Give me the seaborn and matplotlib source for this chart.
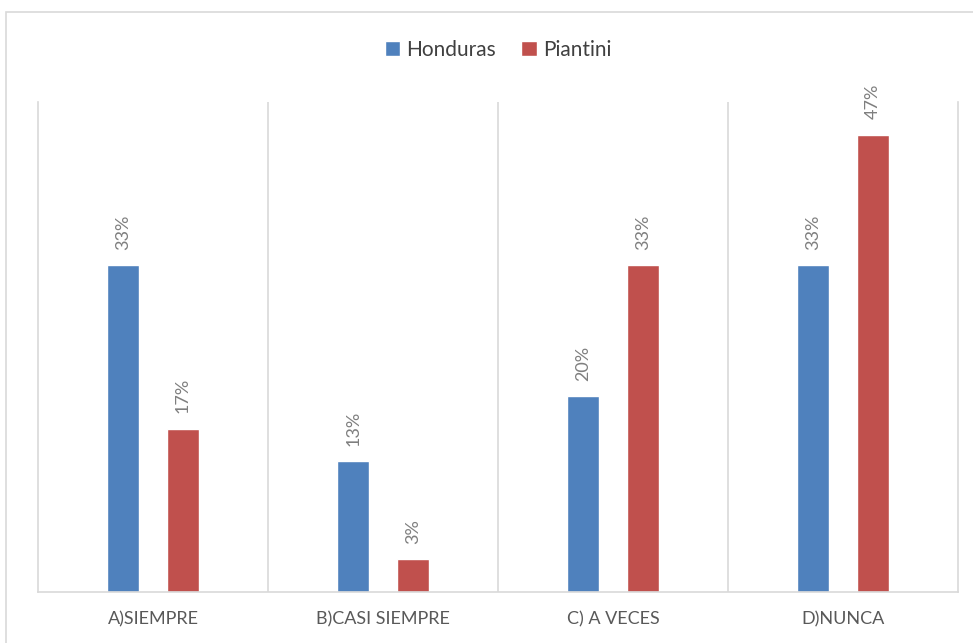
import pandas as pd
import seaborn as sns
import matplotlib.pyplot as plt
from matplotlib.patches import Rectangle

categories = ['A)SIEMPRE', 'B)CASI SIEMPRE', 'C) A VECES', 'D)NUNCA']
honduras = [10 / 30, 4 / 30, 6 / 30, 10 / 30]
piantini = [5 / 30, 1 / 30, 10 / 30, 14 / 30]
series_names = ['Honduras', 'Piantini']
colors = ['#4F81BD', '#C0504D']

df = pd.DataFrame({'categoria': categories * 2,
                   'valor': honduras + piantini,
                   'serie': [series_names[0]] * 4 + [series_names[1]] * 4})

sns.set_style('white')
plt.rcParams['font.family'] = ['Lato', 'DejaVu Sans']

fig = plt.figure(figsize=(9.73, 6.43), dpi=100)
# outer chart border
fig.patches.append(Rectangle((6 / 973, -0.05), 1.1, (643 - 12) / 643 + 0.05,
                             transform=fig.transFigure, fill=False,
                             edgecolor='#D9D9D9', linewidth=1.2))

ax = fig.add_axes([38 / 973, 51 / 643, 920 / 973, 490 / 643])
sns.barplot(data=df, x='categoria', y='valor', hue='serie', palette=colors,
            width=0.52, gap=0.46, ax=ax, saturation=1)

for cont in ax.containers:
    ax.bar_label(cont, labels=['{:.0%}'.format(v) for v in cont.datavalues],
                 rotation=90, padding=11, color='#7F7F7F', fontsize=13)

ax.set_ylim(0, 0.5)
ax.set_xlim(-0.5, 3.5)
ax.set_yticks([])
ax.set_xlabel('')
ax.set_ylabel('')
for xg in [0.5, 1.5, 2.5]:
    ax.axvline(xg, color='#D9D9D9', linewidth=1.2, zorder=0)
ax.spines['top'].set_visible(False)
for side in ['left', 'right', 'bottom']:
    ax.spines[side].set_color('#D9D9D9')
    ax.spines[side].set_linewidth(1.2)
ax.tick_params(axis='x', length=0, pad=14, labelsize=13, labelcolor='#595959')

ax.legend(loc='center', bbox_to_anchor=(0.5, (643 - 50 - 51) / 490), ncol=2,
          frameon=False, fontsize=15, handlelength=0.75, handleheight=0.75,
          handletextpad=0.3, columnspacing=1.2, labelcolor='#404040')

fig.savefig('out.png', dpi=100)
